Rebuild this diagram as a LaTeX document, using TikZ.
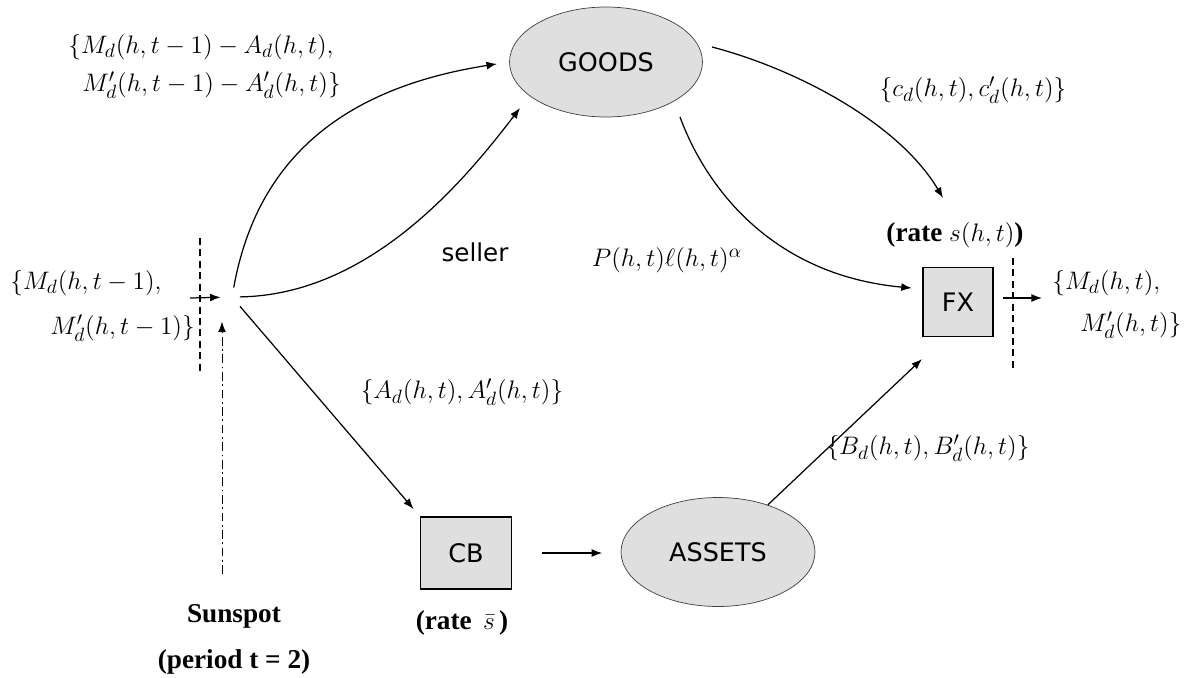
\documentclass[tikz,border=0pt]{standalone}
\usepackage{fontspec}
\newfontfamily\boxfont{DejaVu Sans}
\newfontfamily\capfont{Liberation Serif}
\usetikzlibrary{arrows.meta,shapes.geometric}
\def\hT{(h,t)}
\def\hTm{(h,t-1)}
\tikzset{
  market/.style={ellipse, draw=black!75, fill=gray!25, minimum width=3.86cm, minimum height=2.2cm, font=\boxfont\fontsize{14.5}{17}\selectfont},
  bank/.style={rectangle, draw, line width=0.8pt, fill=gray!25, font=\boxfont\fontsize{14.5}{17}\selectfont},
  flow/.style={-{Latex[length=6pt,width=4.5pt]}, line width=0.7pt},
  mlab/.style={inner sep=0pt, font=\fontsize{15}{18}\selectfont},
  blab/.style={inner sep=0pt, font=\capfont\bfseries\fontsize{15.5}{18}\selectfont},
}

\begin{document}
\begin{tikzpicture}[x=0.02cm, y=-0.02cm]
  \useasboundingbox (0,0) rectangle (1202,677);
  %%%%% markets and agents
  \node[market] (goods) at (606,62) {GOODS};
  \node[market, minimum width=3.88cm, minimum height=2.18cm] (assets) at (718,552) {ASSETS};
  \node[bank, minimum width=1.82cm, minimum height=1.44cm] (cb) at (466,553) {CB};
  \node[bank, minimum width=1.4cm, minimum height=1.38cm] (fx) at (958,302) {FX};

  \coordinate (hub) at (232,297);
  \coordinate (mIn) at (190,298);
  \coordinate (mOut) at (1042,298);
  \coordinate (sunTop) at (222,574);
  \coordinate (sellTip) at (520,108);
  \coordinate (goodsOut) at (712,47);
  \coordinate (goodsLow) at (680,117);
  \coordinate (rateTip) at (943,198);
  \coordinate (fxIn) at (922,359);

  %%%%% flows
  \draw[flow, shorten >=6.5pt] (mIn) -- (hub);
  \draw[flow, line width=0.5pt, dash pattern=on 5pt off 2pt on 1pt off 2pt, shorten >=14pt] (sunTop) -- (sunTop |- hub);
  \draw[flow, shorten <=5.5pt, shorten >=7pt] (hub) .. controls (255,170) and (330,90) .. (goods.west);
  \draw[flow, shorten <=4.5pt] (hub) .. controls (370,295) and (465,180) .. (sellTip);
  \draw[flow, shorten <=7pt, shorten >=5.5pt] (hub) -- (cb.north west);
  \draw[flow] (goodsOut) .. controls (800,70) and (900,125) .. (rateTip);
  \draw[flow, shorten >=6pt] (goodsLow) .. controls (705,185) and (770,275) .. (fx.160);
  \draw[flow, shorten <=17pt, shorten >=10.5pt] (cb.east) -- (cb.east -| assets.west);
  \draw[flow] (assets) -- (fxIn);
  \draw[flow, shorten <=5.5pt] (fx.east |- mOut) -- (mOut);

  \draw[line width=0.6pt, dash pattern=on 4pt off 2.5pt] (200,238) -- (200,372);
  \draw[line width=0.6pt, dash pattern=on 4pt off 2.5pt] (1013,258) -- (1013,368);

  %%%%% labels
  \node[mlab, anchor=west] (gIn1) at (68,47) {$\{M_d\hTm - A_d\hT,$};
  \node[mlab, anchor=west] (gIn2) at (82,85) {$M'_d\hTm - A'_d\hT\}$};
  \node[mlab] (cons) at (973,90) {$\{c_d\hT, c'_d\hT\}$};
  \node[blab] (rateFX) at (955,235) {(rate $s\hT$)};
  \node[mlab] (price) at (667,260) {$P\hT\ell\hT^{\alpha}$};
  \node[font=\boxfont\fontsize{14}{17}\selectfont, inner sep=0pt] (seller) at (475,252) {seller};
  \node[mlab, anchor=west] (mIn1) at (10,283) {$\{M_d\hTm,$};
  \node[mlab, anchor=west] (mIn2) at (50,328) {$M'_d\hTm\}$};
  \node[mlab, anchor=west] (mOut1) at (1052,283) {$\{M_d\hT,$};
  \node[mlab, anchor=west] (mOut2) at (1080,325) {$M'_d\hT\}$};
  \node[mlab] (bonds) at (462,392) {$\{A_d\hT, A'_d\hT\}$};
  \node[mlab] (payout) at (928,448) {$\{B_d\hT, B'_d\hT\}$};
  \node[blab] (rateCB) at (462,623) {(rate\ \,$\bar{s}$\kern2.5pt)};
  \node[blab] (sun) at (234,616) {Sunspot};
  \node[blab] (period) at (234,662) {(period t = 2)};
\end{tikzpicture}
\end{document}
